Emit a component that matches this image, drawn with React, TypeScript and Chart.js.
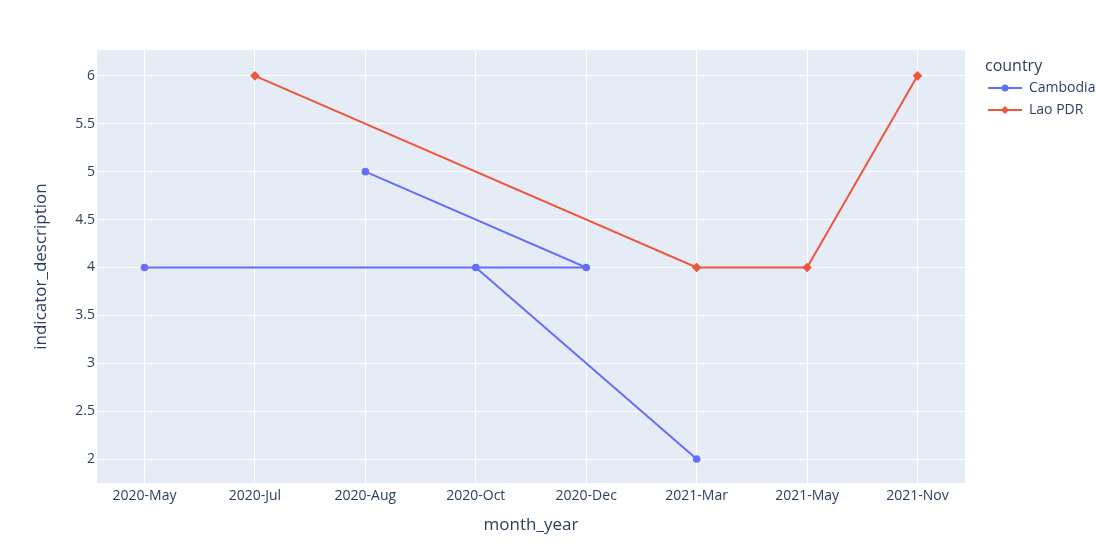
import React, { useEffect, useRef } from "react";
import { Chart, registerables } from "chart.js";

Chart.register(...registerables);

const categories = ["2020-May", "2020-Jul", "2020-Aug", "2020-Oct", "2020-Dec", "2021-Mar", "2021-May", "2021-Nov"];
const cambodiaMonths = ["2020-Aug", "2020-Dec", "2020-May", "2020-Oct", "2021-Mar"];
const cambodiaValues = [5, 4, 4, 4, 2];
const laoMonths = ["2020-Jul", "2021-Mar", "2021-May", "2021-Nov"];
const laoValues = [6, 4, 4, 6];
const yTicks = [2, 2.5, 3, 3.5, 4, 4.5, 5, 5.5, 6];

const FONT = "'Open Sans', verdana, arial, sans-serif";
const TXT = "#2a3f5f";
const BLUE = "#636EFA";
const RED = "#EF553B";

const toPoints = (months: string[], vals: number[]) =>
  months.map((m, i) => ({ x: categories.indexOf(m), y: vals[i] }));

const decor = {
  id: "decor",
  beforeDraw(chart: any) {
    const { ctx, chartArea: a } = chart;
    ctx.save();
    ctx.fillStyle = "#E5ECF6";
    ctx.fillRect(a.left, a.top, a.right - a.left, a.bottom - a.top);
    ctx.restore();
  },
  afterDraw(chart: any) {
    const { ctx, chartArea: a } = chart;
    ctx.save();
    ctx.fillStyle = TXT;
    ctx.font = `17px ${FONT}`;
    ctx.textAlign = "center";
    ctx.textBaseline = "middle";
    ctx.fillText("month_year", (a.left + a.right) / 2, 525);
    ctx.translate(41, (a.top + a.bottom) / 2);
    ctx.rotate(-Math.PI / 2);
    ctx.fillText("indicator_description", 0, 0);
    ctx.restore();

    // legend
    ctx.save();
    ctx.fillStyle = TXT;
    ctx.font = `16px ${FONT}`;
    ctx.textAlign = "left";
    ctx.textBaseline = "middle";
    ctx.fillText("country", 985, 66);
    const items = [
      { label: "Cambodia", color: BLUE, style: "circle" },
      { label: "Lao PDR", color: RED, style: "diamond" },
    ];
    items.forEach((it, i) => {
      const y = 88 + i * 22;
      ctx.strokeStyle = it.color;
      ctx.lineWidth = 2;
      ctx.beginPath();
      ctx.moveTo(988, y);
      ctx.lineTo(1022, y);
      ctx.stroke();
      ctx.fillStyle = it.color;
      ctx.beginPath();
      if (it.style === "circle") {
        ctx.arc(1005, y, 3.5, 0, Math.PI * 2);
      } else {
        ctx.moveTo(1005, y - 4);
        ctx.lineTo(1009, y);
        ctx.lineTo(1005, y + 4);
        ctx.lineTo(1001, y);
        ctx.closePath();
      }
      ctx.fill();
      ctx.fillStyle = TXT;
      ctx.font = `14px ${FONT}`;
      ctx.fillText(it.label, 1029, y + 0.5);
    });
    ctx.restore();
  },
};

export default function App() {
  const ref = useRef<HTMLCanvasElement>(null);
  useEffect(() => {
    document.body.style.margin = "0";
    const chart = new Chart(ref.current!, {
      type: "line",
      data: {
        datasets: [
          {
            label: "Cambodia",
            data: toPoints(cambodiaMonths, cambodiaValues),
            borderColor: BLUE,
            backgroundColor: BLUE,
            borderWidth: 2,
            pointRadius: 3.8,
            pointStyle: "circle",
            pointBorderWidth: 0,
            tension: 0,
          },
          {
            label: "Lao PDR",
            data: toPoints(laoMonths, laoValues),
            borderColor: RED,
            backgroundColor: RED,
            borderWidth: 2,
            pointRadius: 4.8,
            pointStyle: "rectRot",
            pointBorderWidth: 0,
            tension: 0,
          },
        ],
      },
      options: {
        animation: false,
        responsive: false,
        maintainAspectRatio: false,
        layout: { padding: { left: 0, top: 50, right: 146, bottom: 0 } },
        plugins: { legend: { display: false }, tooltip: { enabled: false } },
        scales: {
          x: {
            type: "linear",
            min: -0.43,
            max: 7.43,
            afterFit: (s: any) => { s.height = 65; },
            afterBuildTicks: (s: any) => {
              s.ticks = categories.map((_, i) => ({ value: i }));
            },
            grid: { color: "#ffffff", lineWidth: 1, drawTicks: false },
            border: { display: false },
            ticks: {
              autoSkip: false,
              maxRotation: 0,
              padding: 5,
              color: TXT,
              font: { family: FONT, size: 14 },
              callback: (v: any) => categories[Math.round(Number(v))] ?? "",
            },
          },
          y: {
            type: "linear",
            min: 1.75,
            max: 6.27,
            afterFit: (s: any) => { s.width = 97; },
            afterBuildTicks: (s: any) => {
              s.ticks = yTicks.map((v) => ({ value: v }));
            },
            grid: { color: "#ffffff", lineWidth: 1, drawTicks: false },
            border: { display: false },
            ticks: {
              padding: 2,
              color: TXT,
              font: { family: FONT, size: 14 },
              callback: (v: any) => String(v),
            },
          },
        },
      },
      plugins: [decor],
    } as any);
    return () => chart.destroy();
  }, []);
  return (
    <div style={{ position: "absolute", left: 0, top: 0, width: 1111, height: 548, background: "#fff" }}>
      <canvas ref={ref} width={1111} height={548} style={{ width: 1111, height: 548 }} />
    </div>
  );
}
